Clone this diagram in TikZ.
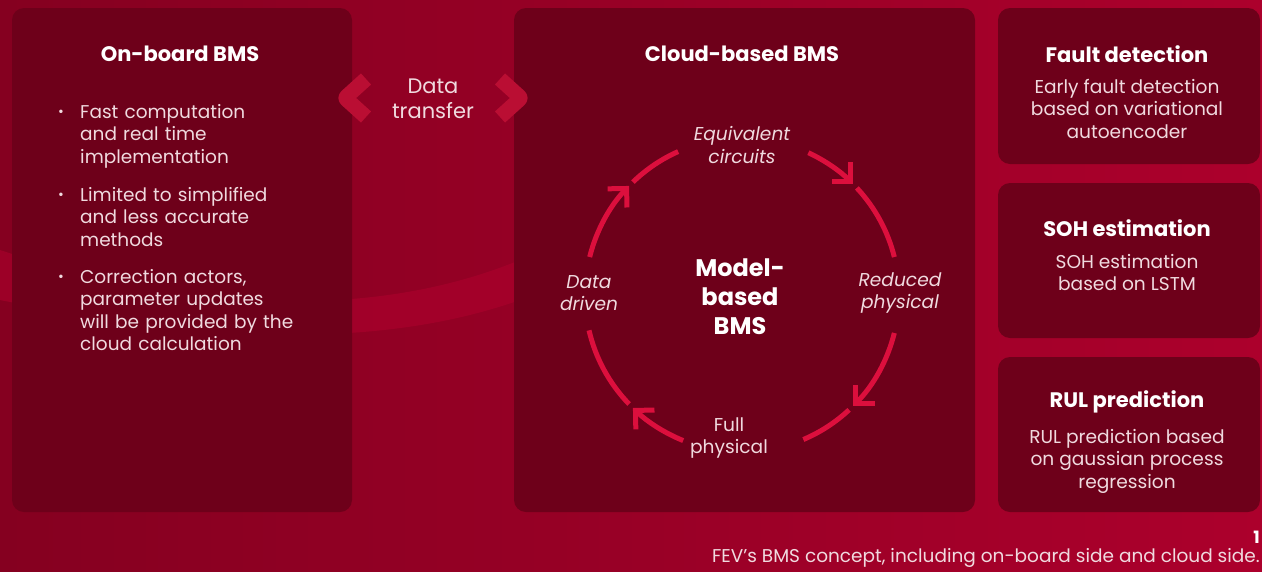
\documentclass[tikz,border=0pt]{standalone}
\usepackage{fontspec}
\setmainfont{Poppins}
\usetikzlibrary{arrows.meta}
\definecolor{bgdark}{HTML}{850020}
\definecolor{bglight}{HTML}{AC002C}
\definecolor{swoosh}{HTML}{B0002E}
\definecolor{panel}{HTML}{6E001A}
\definecolor{ring}{HTML}{DC0F3D}
\definecolor{chev}{HTML}{BA0E33}
\definecolor{txt}{HTML}{F0DADF}
\tikzset{
  panelbox/.style={fill=panel, draw=none, rounded corners=12pt},
  title/.style={text=white, font=\fontsize{21}{25}\selectfont\bfseries, anchor=center, inner sep=0pt},
  body/.style={text=txt, font=\fontsize{18.6}{22.5}\selectfont, align=center, inner sep=0pt},
  cyclab/.style={text=txt, font=\fontsize{18.6}{22.5}\selectfont\itshape, align=center, inner sep=0pt},
  bul/.style={text=txt, font=\fontsize{18.5}{22.5}\selectfont, align=left, anchor=north west, inner sep=0pt, text width=260pt},
  ringarc/.style={draw=ring, line width=5pt},
  ringarrow/.style={ringarc, -{Straight Barb[angle=90:19pt]}},
  chevron/.style={draw=chev, line width=15pt, line join=round, rounded corners=2pt}
}
\begin{document}
\begin{tikzpicture}[x=1pt, y=-1pt]
% background
\shade[left color=bgdark, right color=bglight] (0,0) rectangle (1262,571);
\fill[swoosh, opacity=0.55] (0,250) .. controls (150,300) and (350,330) .. (520,260)
  -- (520,300) .. controls (350,360) and (150,330) .. (0,300) -- cycle;
\useasboundingbox (0,0) rectangle (1262,571);

% panels
\fill[panelbox] (12,8) rectangle (352,512);
\fill[panelbox] (514,8) rectangle (975,512);
\fill[panelbox] (998,8) rectangle (1260,164);
\fill[panelbox] (998,183) rectangle (1260,338);
\fill[panelbox] (998,357) rectangle (1260,512);

% on-board side
\node[title] (onboard) at (180,54) {On-board BMS};
\foreach \y/\t in {104/{Fast computation\\and real time\\implementation},
                   187/{Limited to simplified\\and less accurate\\methods},
                   269/{Correction actors,\\parameter updates\\will be provided by the\\cloud calculation}}{
  \node[text=txt, font=\fontsize{14}{14}\selectfont, inner sep=0pt] at (61,\y+9) {•};
  \node[bul] at (80,\y) {\t};
}

% data transfer
\node[body, font=\fontsize{21}{25}\selectfont] (transfer) at (433,99) {Data\\transfer};
\draw[chevron] (366,79) -- (345,98) -- (366,117);
\draw[chevron] (500,79) -- (521,98) -- (500,117);

% cloud side
\node[title] (cloud) at (742,54) {Cloud-based BMS};
\coordinate (c) at (742,295);
\node[text=white, font=\fontsize{24}{29}\selectfont\bfseries, align=center, inner sep=0pt] (model) at (740,297) {Model-\\based\\BMS};
\node[cyclab] (eq) at (742,145) {Equivalent\\circuits};
\node[cyclab] (red) at (900,293) {Reduced\\physical};
\node[body] (full) at (729,438) {Full\\physical};
\node[cyclab] (dd) at (589,293) {Data\\driven};

% ring of arrows, clockwise on the page (y axis points down, so angles grow clockwise)
% each item: arrowed arc start/end, plain arc start/end
\foreach \sa/\ea/\sb/\eb in {-65/-45/-43/-14, 14/45/47/67, 112/134/136/167, 194/224/226/246}{
  \draw[ringarrow] (c) ++(\sa:157) arc[start angle=\sa, end angle=\ea, radius=157];
  \draw[ringarc] (c) ++(\sb:157) arc[start angle=\sb, end angle=\eb, radius=157];
}

% right panels
\node[title] (fault) at (1127,54) {Fault detection};
\node[body, anchor=north] at (1127,79) {Early fault detection\\based on variational\\autoencoder};
\node[title] (soh) at (1127,228) {SOH estimation};
\node[body, anchor=north] at (1127,254) {SOH estimation\\based on LSTM};
\node[title] (rul) at (1127,402) {RUL prediction};
\node[body, anchor=north] at (1127,429) {RUL prediction based\\on gaussian process\\regression};

% caption
\node[text=white, font=\fontsize{17}{20}\selectfont\bfseries, anchor=east, inner sep=0pt] at (1260,537) {1};
\node[text=txt, font=\fontsize{18.5}{20}\selectfont, anchor=east, inner sep=0pt] at (1260,558) {FEV’s BMS concept, including on-board side and cloud side.};
\end{tikzpicture}
\end{document}
